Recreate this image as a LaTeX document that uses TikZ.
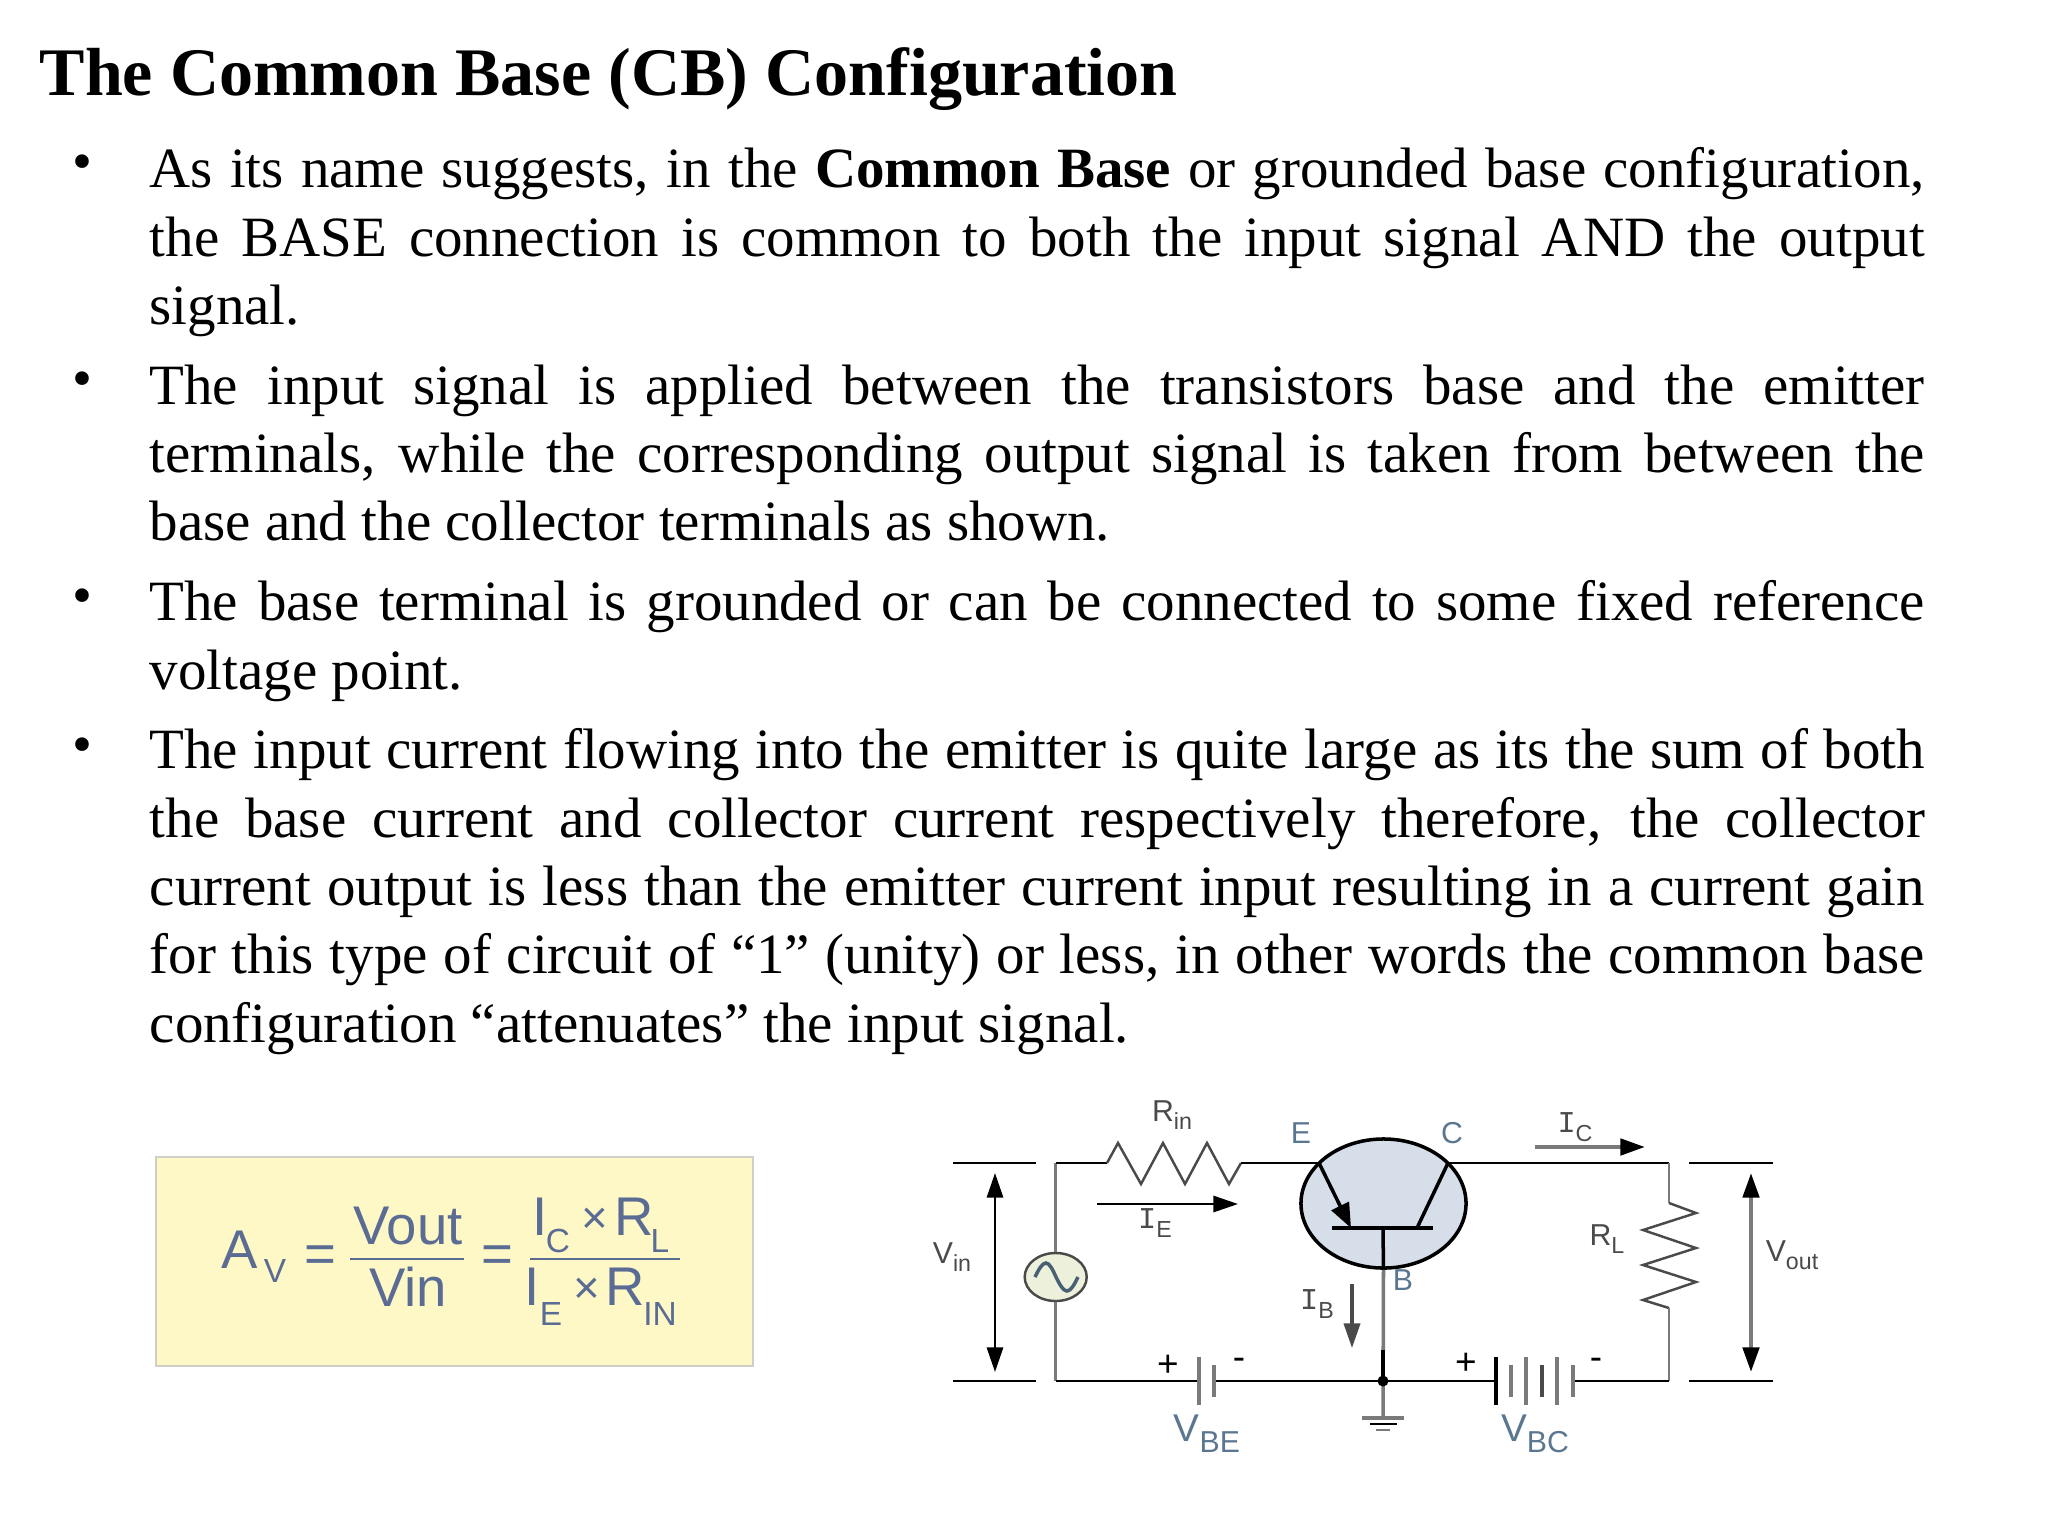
\documentclass[tikz,border=0pt]{standalone}
\usepackage{fontspec}
\usepackage{tikz}
\usetikzlibrary{arrows.meta,shapes.geometric}
\setmainfont{Liberation Serif}
\setsansfont{Liberation Sans}
\setmonofont{Liberation Mono}
\definecolor{wiregray}{HTML}{7A7A7A}
\definecolor{labelgray}{HTML}{4A4A4A}
\definecolor{labelblue}{HTML}{5B7790}
\definecolor{formulablue}{HTML}{5A6C94}
\definecolor{boxyellow}{HTML}{FEF7C6}
\definecolor{boxedge}{HTML}{CFCFC8}
\definecolor{basefill}{HTML}{D6DEEA}
\definecolor{srcfill}{HTML}{EDF1DC}
\newcommand{\lowtxt}[1]{\raisebox{-.28em}{\fontsize{6.6}{7}\selectfont #1}}
\newcommand{\serifI}{{\ttfamily I}}
\tikzset{
  para/.style={anchor=north west,inner sep=0pt,text width=17.74cm,align=justify,font=\fontsize{16.2}{19.43}\selectfont},
  dot/.style={inner sep=0pt,font=\fontsize{16.2}{19.43}\selectfont},
  wire/.style={line width=.55pt,black},
  graywire/.style={line width=1pt,wiregray},
  harrow/.style={-{Triangle[length=7pt,width=4.6pt]}},
  darrow/.style={{Triangle[length=7pt,width=4.6pt]}-{Triangle[length=7pt,width=4.6pt]}},
  lbl/.style={inner sep=0pt,font=\sffamily\fontsize{8.6}{10}\selectfont,text=labelgray},
  tlbl/.style={inner sep=0pt,font=\sffamily\fontsize{8.6}{10}\selectfont,text=labelblue},
  vlbl/.style={inner sep=0pt,font=\sffamily\fontsize{11}{12}\selectfont,text=labelblue},
  sym/.style={inner sep=0pt,font=\sffamily\fontsize{10.5}{11}\selectfont,text=black},
  form/.style={inner sep=0pt,font=\sffamily\fontsize{15.5}{17}\selectfont,text=formulablue},
  formsub/.style={inner sep=0pt,font=\sffamily\fontsize{9.5}{11}\selectfont,text=formulablue},
  formx/.style={inner sep=0pt,font=\sffamily\fontsize{13}{14}\selectfont,text=formulablue},
}
\begin{document}
\begin{tikzpicture}[x=0.01cm,y=-0.01cm]

\useasboundingbox (0,0) rectangle (2048,1536);

\node [anchor=base west,inner sep=0pt,font=\bfseries\fontsize{19.35}{23}\selectfont] (H) at (39,95) {The Common Base (CB) Configuration};

\node [dot] (D1) at (82,168) {•};
\node [dot] (D2) at (82,385) {•};
\node [dot] (D3) at (82,602) {•};
\node [dot] (D4) at (82,751) {•};

\node [para] (P1) at (149,147) {As its name suggests, in the \textbf{Common Base} or grounded base configuration,\linebreak the BASE connection is common to both the input signal AND the output\linebreak signal.};
\node [para] (P2) at (149,364) {The input signal is applied between the transistors base and the emitter\linebreak terminals, while the corresponding output signal is taken from between the\linebreak base and the collector terminals as shown.};
\node [para] (P3) at (149,580) {The base terminal is grounded or can be connected to some fixed reference\linebreak voltage point.};
\node [para] (P4) at (149,728) {The input current flowing into the emitter is quite large as its the sum of both\linebreak the base current and collector current respectively therefore, the collector\linebreak current output is less than the emitter current input resulting in a current gain\linebreak for this type of circuit of “1” (unity) or less, in other words the common base\linebreak configuration “attenuates” the input signal.};

\node [draw=boxedge,fill=boxyellow,line width=.5pt,minimum width=5.97cm,minimum height=2.09cm,inner sep=0pt] (F) at (454.5,1261.5) {};

\node [form,anchor=base] (AV) at (240,1268) {A};
\node [formsub,anchor=base] (AVs) at (275,1282) {V};
\node [form,anchor=base] (Q1) at (320,1272) {=};
\node [form,anchor=base] (VO) at (408,1244) {Vout};
\node [form,anchor=base] (VI) at (408,1306) {Vin};
\node [form,anchor=base] (Q2) at (497,1272) {=};
\node [form,anchor=base] (NI) at (540,1235) {I};
\node [formsub,anchor=base] (NC) at (558,1252) {C};
\node [formx,anchor=base] (NX) at (595,1233) {×};
\node [form,anchor=base] (NR) at (634,1235) {R};
\node [formsub,anchor=base] (NL) at (660,1252) {L};
\node [form,anchor=base] (DI) at (532,1305) {I};
\node [formsub,anchor=base] (DE) at (551,1325) {E};
\node [formx,anchor=base] (DX) at (587,1303) {×};
\node [form,anchor=base] (DR) at (625,1305) {R};
\node [formsub,anchor=base] (DN) at (660,1325) {IN};

\coordinate (B1a) at (350,1259);
\coordinate (B1b) at (464,1259);
\coordinate (B2a) at (530,1259);
\coordinate (B2b) at (680,1259);
\draw [line width=.7pt,formulablue] (B1a) -- (B1b);
\draw [line width=.7pt,formulablue] (B2a) -- (B2b);

\node [draw=black,fill=basefill,ellipse,line width=1pt,minimum width=1.65cm,minimum height=1.29cm,inner sep=0pt] (T) at (1383.5,1203.5) {};
\node [draw=labelgray,fill=srcfill,ellipse,line width=.7pt,minimum width=.62cm,minimum height=.48cm,inner sep=0pt] (S) at (1055.7,1277) {};

\coordinate (TL) at (1055.7,1163);
\coordinate (BL) at (1055.7,1381);
\coordinate (RA) at (1107,1163);
\coordinate (RB) at (1241,1163);
\coordinate (E) at (1319,1163);
\coordinate (C) at (1448,1163);
\coordinate (TR) at (1669,1163);
\coordinate (LA) at (1669,1203);
\coordinate (LB) at (1669,1308);
\coordinate (BR) at (1669,1381);
\coordinate (J) at (1383,1381);
\coordinate (G) at (1383,1418);
\coordinate (BM) at (1383,1228);
\coordinate (BEa) at (1351,1228);
\coordinate (BCa) at (1417,1228);
\coordinate (Ba) at (1332,1228);
\coordinate (Bb) at (1433,1228);

\draw [graywire] (TL) -- (S.north);
\draw [graywire] (S.south) -- (BL);
\draw [wire] (TL) -- (RA);
\draw [wire,line width=.7pt,labelgray] (RA) -- ++(11,-20) -- ++(23,41) -- ++(22,-41) -- ++(22,41) -- ++(22,-41) -- ++(22,41) -- (RB);
\draw [wire] (RB) -- (E);
\draw [wire] (C) -- (TR);
\draw [graywire,line width=.8pt] (TR) -- (LA);
\draw [wire,line width=.7pt,labelgray] (LA) -- ++(27,10) -- ++(-53,17) -- ++(53,18) -- ++(-53,17) -- ++(53,17) -- ++(-53,18) -- (LB);
\draw [graywire,line width=.8pt] (LB) -- (BR);

\draw [line width=1pt,black,-{Triangle[length=7pt,width=5.4pt]}] (E) -- (BEa);
\draw [line width=1pt,black] (BCa) -- (C);
\draw [line width=1pt,black] (Ba) -- (Bb);
\draw [line width=1pt,black] (BM) -- (T.south);
\draw [graywire] (T.south) -- (G);
\coordinate (Jt) at (1383,1350);
\draw [line width=1pt,black] (Jt) -- (J);

\coordinate (VEa) at (1199,1381);
\coordinate (VEb) at (1214,1381);
\coordinate (VCa) at (1496,1381);
\coordinate (VCb) at (1573,1381);
\draw [wire] (BL) -- (VEa);
\draw [wire] (VEb) -- (J);
\draw [wire] (J) -- (VCa);
\draw [wire] (VCb) -- (BR);
\fill (J) circle (5.5);

\draw [line width=1.2pt,wiregray] (1199,1357) -- (1199,1405);
\draw [line width=.9pt,wiregray] (1214,1365) -- (1214,1397);
\draw [line width=.9pt,black] (1496,1357) -- (1496,1405);
\draw [line width=.9pt,wiregray] (1511,1365) -- (1511,1397);
\draw [line width=1.2pt,wiregray] (1526,1357) -- (1526,1405);
\draw [line width=.9pt,labelgray] (1542,1365) -- (1542,1397);
\draw [line width=1pt,wiregray] (1557,1357) -- (1557,1405);
\draw [line width=1.2pt,wiregray] (1573,1365) -- (1573,1397);

\draw [graywire] (1362,1418) -- (1404,1418);
\draw [wire] (1370,1424) -- (1397,1424);
\draw [wiregray,line width=.8pt] (1376,1430) -- (1390,1430);

\draw [line width=1pt,labelblue!80!black] (1035,1277) sin (1046,1263) cos (1056,1277) sin (1067,1291) cos (1078,1277);

\coordinate (VLa) at (953,1163);
\coordinate (VLb) at (1036,1163);
\coordinate (VLc) at (953,1381);
\coordinate (VLd) at (1036,1381);
\coordinate (VRa) at (1689,1163);
\coordinate (VRb) at (1773,1163);
\coordinate (VRc) at (1689,1381);
\coordinate (VRd) at (1773,1381);
\draw [wire] (VLa) -- (VLb);
\draw [wire] (VLc) -- (VLd);
\draw [wire] (VRa) -- (VRb);
\draw [wire] (VRc) -- (VRd);

\coordinate (AIa) at (995,1173);
\coordinate (AIb) at (995,1372);
\coordinate (AOa) at (1751,1173);
\coordinate (AOb) at (1751,1372);
\coordinate (IEa) at (1097,1204);
\coordinate (IEb) at (1238,1204);
\coordinate (IBa) at (1352,1284);
\coordinate (IBb) at (1352,1348);
\coordinate (ICa) at (1535,1147);
\coordinate (ICb) at (1645,1147);
\draw [darrow,line width=.7pt] (AIa) -- (AIb);
\draw [line width=1.2pt,wiregray,{Triangle[length=7pt,width=4.6pt,black]}-{Triangle[length=7pt,width=4.6pt,black]}] (AOa) -- (AOb);
\draw [harrow,line width=.7pt] (IEa) -- (IEb);
\draw [harrow,line width=.9pt,labelgray] (IBa) -- (IBb);
\draw [line width=1.2pt,wiregray,-{Triangle[length=7pt,width=4.6pt,black]}] (ICa) -- (ICb);

\node [lbl] (LRin) at (1172,1115) {R\lowtxt{in}};
\node [tlbl] (LE) at (1301,1133) {E};
\node [tlbl] (LC) at (1452,1133) {C};
\node [tlbl] (LBb) at (1403,1280) {B};
\node [lbl] (LIE) at (1155,1223) {\serifI\lowtxt{E}};
\node [lbl] (LIB) at (1317,1304) {\serifI\lowtxt{B}};
\node [lbl] (LIC) at (1575,1127) {\serifI\lowtxt{C}};
\node [lbl] (LRL) at (1607,1239) {R\lowtxt{L}};
\node [lbl] (LVin) at (952,1257) {V\lowtxt{in}};
\node [lbl] (LVout) at (1792,1255) {V\lowtxt{out}};
\node [vlbl] (LVBE) at (1207,1434) {V\lowtxt{\fontsize{8.6}{9}\selectfont BE}};
\node [vlbl] (LVBC) at (1535,1434) {V\lowtxt{\fontsize{8.6}{9}\selectfont BC}};
\node [sym] (PE) at (1168,1366) {+};
\node [sym] (ME) at (1239,1364) {-};
\node [sym] (PC) at (1466,1364) {+};
\node [sym] (MC) at (1596,1364) {-};

\end{tikzpicture}
\end{document}
